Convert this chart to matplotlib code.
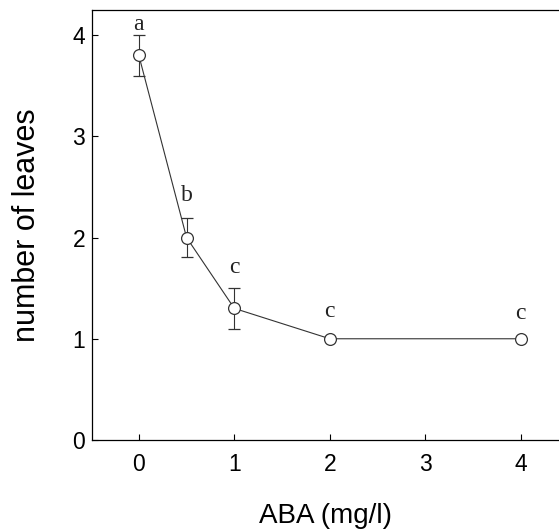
import matplotlib.pyplot as plt

# ABA concentration vs leaf number
aba = [0, 0.5, 1, 2, 4]
leaves = [3.8, 2.0, 1.3, 1.0, 1.0]
err = [0.2, 0.19, 0.2, 0.0, 0.0]
letters = ['a', 'b', 'c', 'c', 'c']

fig = plt.figure(figsize=(5.59, 5.30), dpi=100)
ax = fig.add_axes([0.1646, 0.1698, 0.8354, 0.8113])

ax.errorbar(aba, leaves, yerr=err, fmt='-o', color='#333333', lw=0.8,
            mfc='white', mec='#333333', mew=0.9, ms=8.5,
            elinewidth=0.8, capsize=4, capthick=0.8)

# significance letters sit a little above each bar (first one squeezed by the frame)
gaps = [0.0, 0.12, 0.1, 0.12, 0.1]
for x, y, e, g, t in zip(aba, leaves, err, gaps, letters):
    top = y + max(e, 0.05)
    ax.text(x, top + g, t, ha='center', va='bottom',
            fontsize=17, family='Liberation Serif', color='#222222')

ax.set_xlim(-0.49, 4.4)
ax.set_ylim(0, 4.247)
ax.set_xticks([0, 1, 2, 3, 4])
ax.set_yticks([0, 1, 2, 3, 4])
ax.tick_params(direction='in', length=4, width=0.8, labelsize=16.5)
ax.tick_params(axis='x', pad=9)
ax.tick_params(axis='y', pad=5)
for lab in ax.get_xticklabels() + ax.get_yticklabels():
    lab.set_family('Liberation Sans')
ax.spines['right'].set_visible(False)
for s in ['left', 'top', 'bottom']:
    ax.spines[s].set_linewidth(0.9)

ax.set_xlabel('ABA (mg/l)', fontsize=20, family='Liberation Sans', labelpad=20)
ax.set_ylabel('number of leaves', fontsize=22, family='Liberation Sans', labelpad=22)

fig.savefig('out.png', dpi=100)
